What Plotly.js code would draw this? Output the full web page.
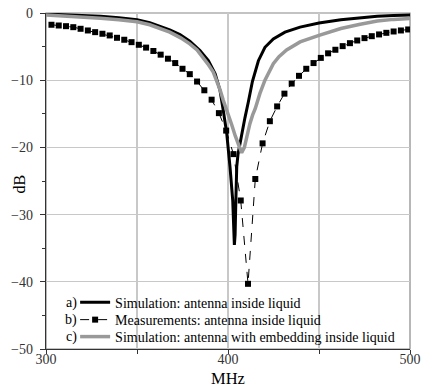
<!DOCTYPE html>
<html><head><meta charset="utf-8">
<script src="https://cdn.plot.ly/plotly-3.0.1.min.js"></script>
<style>html,body{margin:0;padding:0;background:#fff;}#chart{width:423px;height:388px;}</style>
</head><body><div id="chart"></div>
<script>
// a) Simulation: antenna inside liquid
var simAFreq = [300, 315, 330, 340, 350, 357, 362.6, 368, 373.6, 379, 384.6, 389.2, 392.9, 395.6, 397.4, 399.3, 401.1, 402.6, 403.5, 403.9, 404.3, 404.8, 405.5, 407.5, 409.3, 411.2, 413.4, 416.7, 420.3, 424.9, 431.3, 439.6, 450, 462, 472, 482, 491, 500];
var simADb   = [-0.15, -0.3, -0.5, -0.7, -1.0, -1.45, -1.95, -2.5, -3.2, -4.2, -5.6, -7.1, -9.0, -11.5, -14.5, -17.9, -22.9, -27.9, -34.5, -33, -28, -22.9, -21, -17.9, -15.6, -13.2, -10.2, -7.1, -5.1, -3.85, -2.85, -2.1, -1.5, -1.0, -0.7, -0.5, -0.38, -0.28];
// b) Measurements: antenna inside liquid
var measFreq = [303, 307, 311, 315, 319, 323, 327, 331, 335, 339, 343, 347, 351, 355, 359, 363, 367, 371, 375, 379, 383, 387, 391, 395, 399, 403, 407, 411, 415, 419, 423, 427, 431, 435, 439, 443, 447, 451, 455, 459, 463, 467, 471, 475, 479, 483, 487, 491, 495, 499];
var measDb   = [-1.75, -1.86, -1.96, -2.11, -2.35, -2.6, -2.85, -3.09, -3.34, -3.69, -3.98, -4.34, -4.73, -5.15, -5.65, -6.2, -6.8, -7.45, -8.3, -9.1, -10.2, -11.5, -12.9, -14.9, -17.5, -21.0, -27.9, -40.3, -24.7, -19.4, -16.1, -13.9, -12.0, -10.5, -9.35, -8.3, -7.45, -6.68, -6.0, -5.47, -4.93, -4.49, -4.09, -3.74, -3.45, -3.19, -2.95, -2.75, -2.6, -2.45];
// c) Simulation: antenna with embedding inside liquid
var simCFreq = [300, 315, 330, 340, 350, 357, 362, 368, 374, 379, 383, 386.4, 389, 391.9, 394, 395.6, 397.4, 400, 402, 404, 406, 407.5, 409, 410.5, 412, 413.5, 415, 417.5, 420.3, 424.9, 428, 432.2, 439.6, 450, 462, 472, 482, 491, 500];
var simCDb   = [-0.3, -0.5, -0.77, -1.0, -1.3, -1.75, -2.2, -2.85, -3.7, -4.6, -5.5, -6.6, -7.6, -8.8, -10.1, -11.4, -13, -14.9, -16.6, -18.3, -19.9, -20.8, -20.0, -18.2, -16.5, -15.2, -14.2, -12.0, -10, -7.55, -6.5, -5.5, -4.3, -3.34, -2.3, -1.7, -1.2, -0.95, -0.8];

var seriesNames = ['Simulation: antenna inside liquid', 'Measurements: antenna inside liquid', 'Simulation: antenna with embedding inside liquid'];
var seriesTags = ['a)', 'b)', 'c)'];
var xTickVals = [300, 350, 400, 450, 500];
var xTickText = ['300', '', '400', '', '500'];
var yTickVals = [0, -10, -20, -30, -40, -50];

var serif = 'Liberation Serif, Times New Roman, serif';

var traces = [
  {x: simAFreq, y: simADb, mode: 'lines', name: seriesNames[0], legend: 'legend',
   line: {color: '#000000', width: 3}},
  {x: simCFreq, y: simCDb, mode: 'lines', name: seriesNames[2], legend: 'legend3',
   line: {color: '#999999', width: 3.5}},
  {x: measFreq, y: measDb, mode: 'lines+markers', name: seriesNames[1], legend: 'legend2',
   line: {color: '#000000', width: 1, dash: 'dash'},
   marker: {symbol: 'square', size: 6, color: '#000000'}}
];

var rowY = [0.138, 0.0862, 0.0357];
var annotations = seriesTags.map(function(t, i){
  return {xref: 'paper', yref: 'paper', x: 0.09, y: rowY[i], xanchor: 'right', yanchor: 'middle',
          text: t, showarrow: false, font: {family: serif, size: 14, color: '#000'}};
});
annotations.push({xref: 'paper', yref: 'paper', x: -0.074, y: 0.49, xanchor: 'center', yanchor: 'middle',
  text: 'dB', textangle: -90, showarrow: false, font: {family: serif, size: 16, color: '#000'}});
annotations.push({xref: 'paper', yref: 'paper', x: 0.5, y: -0.087, xanchor: 'center', yanchor: 'middle',
  text: 'MHz', showarrow: false, font: {family: serif, size: 16.5, color: '#000'}});

function leg(yv){
  return {x: 0.08, y: yv, xanchor: 'left', yanchor: 'middle', bgcolor: 'rgba(0,0,0,0)', borderwidth: 0,
          font: {family: serif, size: 14, color: '#000'}};
}

var layout = {
  width: 423, height: 388,
  margin: {l: 46, r: 13, t: 12.5, b: 39},
  paper_bgcolor: '#ffffff', plot_bgcolor: '#ffffff',
  showlegend: true,
  legend: leg(rowY[0]), legend2: leg(rowY[1]), legend3: leg(rowY[2]),
  xaxis: {range: [300, 500], tickvals: xTickVals, ticktext: xTickText, showgrid: true, gridcolor: '#c8c8c8', gridwidth: 1.2,
          zeroline: false, showline: true, linecolor: '#333', linewidth: 1.2, ticks: 'outside', ticklen: 4, tickcolor: '#333',
          tickfont: {family: serif, size: 14, color: '#333'}, ticklabelstandoff: -7},
  yaxis: {range: [-50, 0], tickvals: yTickVals, showgrid: true, gridcolor: '#c8c8c8', gridwidth: 1.2,
          zeroline: false, showline: true, linecolor: '#333', linewidth: 1.2, ticks: 'outside', ticklen: 5, tickcolor: '#333',
          tickfont: {family: serif, size: 14, color: '#333'}, ticklabelstandoff: 4,
          minor: {dtick: 5, ticks: 'outside', ticklen: 3, tickcolor: '#333', showgrid: false}},
  shapes: [
    {type: 'rect', xref: 'paper', yref: 'paper', x0: 0, x1: 1, y0: 0, y1: 1, line: {color: '#888', width: 1.2}, layer: 'below'},
    {type: 'rect', xref: 'paper', yref: 'paper', x0: 0.004, x1: 0.975, y0: 0.003, y1: 0.18, fillcolor: '#ffffff', line: {width: 0}, layer: 'between'}
  ],
  annotations: annotations
};
Plotly.newPlot('chart', traces, layout, {displayModeBar: false, staticPlot: true});
</script></body></html>
